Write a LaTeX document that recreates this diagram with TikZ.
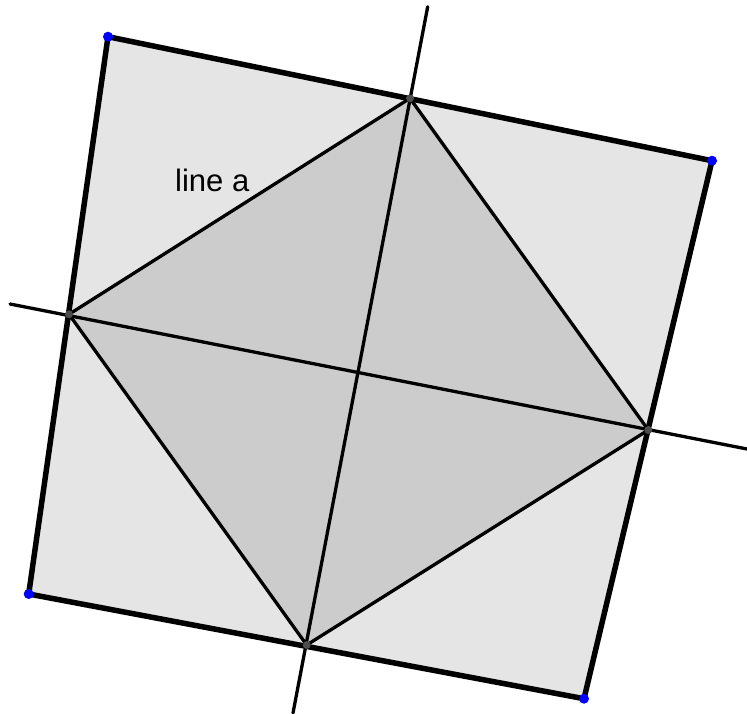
\documentclass[tikz,border=0pt]{standalone}
\usepackage{fontspec}
\setmainfont{Liberation Sans}
\begin{document}
\begin{tikzpicture}[x=1pt,y=-1pt,
  thickedge/.style={line width=5.5pt,line cap=round,line join=round},
  thinedge/.style={line width=3.3pt,line cap=round},
  corner/.style={circle,fill=blue,inner sep=0pt,minimum size=10pt},
  midpt/.style={circle,fill=black!70,inner sep=0pt,minimum size=8pt}]
\useasboundingbox (0,0) rectangle (747,714);
\coordinate (A) at (108,36.7);
\coordinate (B) at (712,160.7);
\coordinate (C) at (584,698.7);
\coordinate (D) at (28.7,594);
\coordinate (T) at (410,98.3);
\coordinate (R) at (648.3,430);
\coordinate (Bm) at (306.7,645);
\coordinate (L) at (69,314.3);
\coordinate (O) at (359,372.3);
\coordinate (Vtop) at (427.7,6.7);
\coordinate (Vbot) at (293,713);
\coordinate (Hl) at (10,304);
\coordinate (Hr) at (747,449);
\fill[black!10] (A) -- (B) -- (C) -- (D) -- cycle;
\fill[black!20] (T) -- (R) -- (Bm) -- (L) -- cycle;
\draw[thinedge] (Vtop) -- (Vbot);
\draw[thinedge] (Hl) -- (Hr);
\draw[thinedge] (L) -- (T) -- (R) -- (Bm) -- cycle;
\draw[thickedge] (A) -- (B) -- (C) -- (D) -- cycle;
\node[midpt] (pT) at (T) {};
\node[midpt] (pR) at (R) {};
\node[midpt] (pB) at (Bm) {};
\node[midpt] (pL) at (L) {};
\node[corner] (pA) at (A) {};
\node[corner] (pBB) at (B) {};
\node[corner] (pC) at (C) {};
\node[corner] (pD) at (D) {};
\node[anchor=base west,inner sep=0pt,font=\fontsize{31}{36}\selectfont] (lbl) at (175,192) {line a};
\end{tikzpicture}
\end{document}
